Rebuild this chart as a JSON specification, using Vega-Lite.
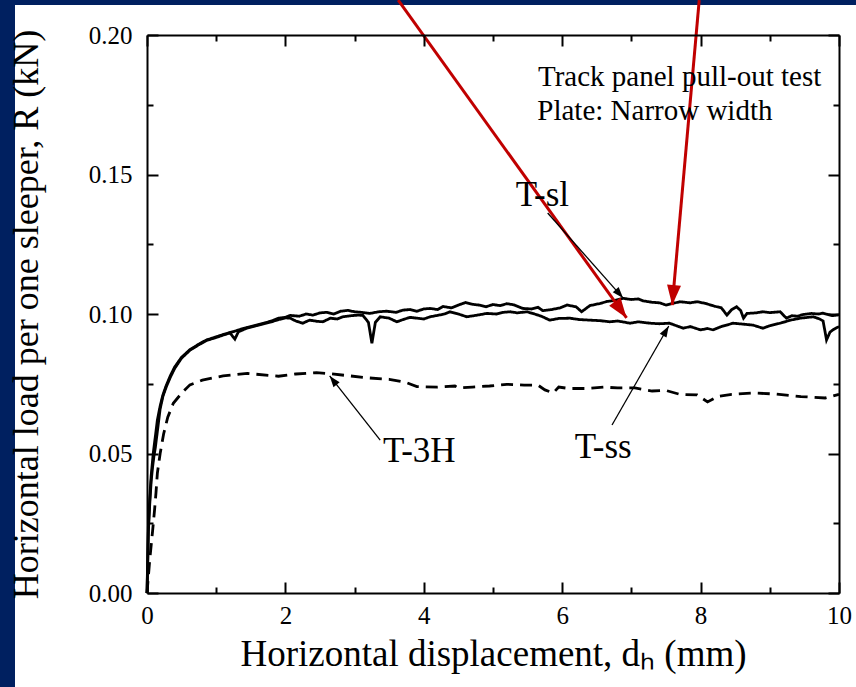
{
  "$schema": "https://vega.github.io/schema/vega-lite/v6.json",
  "width": 692,
  "height": 558,
  "autosize": "none",
  "padding": {"left": 147, "top": 35, "right": 17, "bottom": 94},
  "background": "#002060",
  "config": {"view": {"stroke": null}, "font": "Liberation Serif", "axis": {"grid": false}},
  "datasets": {
    "paper": [{"x0": -1.9075, "x1": 10.5, "y0": 0.21075, "y1": -0.05}],
    "curves": [
      {"s": "T-sl", "x": 0, "y": 0}, {"s": "T-sl", "x": 0.01, "y": 0.012}, {"s": "T-sl", "x": 0.02, "y": 0.024}, {"s": "T-sl", "x": 0.04, "y": 0.034}, {"s": "T-sl", "x": 0.06, "y": 0.042}, {"s": "T-sl", "x": 0.09, "y": 0.05}, {"s": "T-sl", "x": 0.12, "y": 0.056}, {"s": "T-sl", "x": 0.15, "y": 0.062}, {"s": "T-sl", "x": 0.19, "y": 0.067}, {"s": "T-sl", "x": 0.23, "y": 0.071}, {"s": "T-sl", "x": 0.28, "y": 0.0745}, {"s": "T-sl", "x": 0.34, "y": 0.078}, {"s": "T-sl", "x": 0.4, "y": 0.081}, {"s": "T-sl", "x": 0.5, "y": 0.0845}, {"s": "T-sl", "x": 0.62, "y": 0.0872}, {"s": "T-sl", "x": 0.75, "y": 0.0892}, {"s": "T-sl", "x": 0.86, "y": 0.0907}, {"s": "T-sl", "x": 1.0, "y": 0.0918}, {"s": "T-sl", "x": 1.12, "y": 0.0928}, {"s": "T-sl", "x": 1.25, "y": 0.0937}, {"s": "T-sl", "x": 1.35, "y": 0.0945}, {"s": "T-sl", "x": 1.45, "y": 0.0952}, {"s": "T-sl", "x": 1.58, "y": 0.096}, {"s": "T-sl", "x": 1.7, "y": 0.0968}, {"s": "T-sl", "x": 1.8, "y": 0.0975}, {"s": "T-sl", "x": 1.9, "y": 0.0985}, {"s": "T-sl", "x": 2.0, "y": 0.0988}, {"s": "T-sl", "x": 2.07, "y": 0.0995}, {"s": "T-sl", "x": 2.2, "y": 0.0992}, {"s": "T-sl", "x": 2.3, "y": 0.1}, {"s": "T-sl", "x": 2.4, "y": 0.0996}, {"s": "T-sl", "x": 2.5, "y": 0.1004}, {"s": "T-sl", "x": 2.6, "y": 0.1006}, {"s": "T-sl", "x": 2.7, "y": 0.1}, {"s": "T-sl", "x": 2.8, "y": 0.101}, {"s": "T-sl", "x": 2.9, "y": 0.1013}, {"s": "T-sl", "x": 3.0, "y": 0.1008}, {"s": "T-sl", "x": 3.1, "y": 0.1006}, {"s": "T-sl", "x": 3.22, "y": 0.1002}, {"s": "T-sl", "x": 3.35, "y": 0.1008}, {"s": "T-sl", "x": 3.46, "y": 0.101}, {"s": "T-sl", "x": 3.6, "y": 0.1006}, {"s": "T-sl", "x": 3.7, "y": 0.1014}, {"s": "T-sl", "x": 3.8, "y": 0.1016}, {"s": "T-sl", "x": 3.9, "y": 0.101}, {"s": "T-sl", "x": 4.0, "y": 0.1018}, {"s": "T-sl", "x": 4.09, "y": 0.102}, {"s": "T-sl", "x": 4.2, "y": 0.1016}, {"s": "T-sl", "x": 4.28, "y": 0.1027}, {"s": "T-sl", "x": 4.4, "y": 0.1022}, {"s": "T-sl", "x": 4.5, "y": 0.1032}, {"s": "T-sl", "x": 4.6, "y": 0.1041}, {"s": "T-sl", "x": 4.7, "y": 0.1035}, {"s": "T-sl", "x": 4.8, "y": 0.1032}, {"s": "T-sl", "x": 4.9, "y": 0.1026}, {"s": "T-sl", "x": 5.0, "y": 0.1034}, {"s": "T-sl", "x": 5.1, "y": 0.103}, {"s": "T-sl", "x": 5.2, "y": 0.1037}, {"s": "T-sl", "x": 5.3, "y": 0.1033}, {"s": "T-sl", "x": 5.43, "y": 0.102}, {"s": "T-sl", "x": 5.55, "y": 0.1018}, {"s": "T-sl", "x": 5.65, "y": 0.1024}, {"s": "T-sl", "x": 5.72, "y": 0.1012}, {"s": "T-sl", "x": 5.85, "y": 0.1016}, {"s": "T-sl", "x": 5.97, "y": 0.1022}, {"s": "T-sl", "x": 6.07, "y": 0.1032}, {"s": "T-sl", "x": 6.2, "y": 0.1026}, {"s": "T-sl", "x": 6.28, "y": 0.1008}, {"s": "T-sl", "x": 6.4, "y": 0.103}, {"s": "T-sl", "x": 6.55, "y": 0.1038}, {"s": "T-sl", "x": 6.65, "y": 0.1045}, {"s": "T-sl", "x": 6.75, "y": 0.1048}, {"s": "T-sl", "x": 6.88, "y": 0.1056}, {"s": "T-sl", "x": 7.0, "y": 0.1052}, {"s": "T-sl", "x": 7.1, "y": 0.1054}, {"s": "T-sl", "x": 7.17, "y": 0.1047}, {"s": "T-sl", "x": 7.3, "y": 0.1042}, {"s": "T-sl", "x": 7.41, "y": 0.104}, {"s": "T-sl", "x": 7.5, "y": 0.1032}, {"s": "T-sl", "x": 7.6, "y": 0.1038}, {"s": "T-sl", "x": 7.7, "y": 0.1044}, {"s": "T-sl", "x": 7.85, "y": 0.104}, {"s": "T-sl", "x": 7.95, "y": 0.1044}, {"s": "T-sl", "x": 8.07, "y": 0.1038}, {"s": "T-sl", "x": 8.2, "y": 0.1028}, {"s": "T-sl", "x": 8.3, "y": 0.1022}, {"s": "T-sl", "x": 8.38, "y": 0.0996}, {"s": "T-sl", "x": 8.45, "y": 0.1016}, {"s": "T-sl", "x": 8.52, "y": 0.1026}, {"s": "T-sl", "x": 8.58, "y": 0.1012}, {"s": "T-sl", "x": 8.62, "y": 0.0985}, {"s": "T-sl", "x": 8.67, "y": 0.1002}, {"s": "T-sl", "x": 8.8, "y": 0.1004}, {"s": "T-sl", "x": 8.9, "y": 0.1008}, {"s": "T-sl", "x": 9.0, "y": 0.1005}, {"s": "T-sl", "x": 9.15, "y": 0.1008}, {"s": "T-sl", "x": 9.24, "y": 0.0985}, {"s": "T-sl", "x": 9.32, "y": 0.0994}, {"s": "T-sl", "x": 9.4, "y": 0.0992}, {"s": "T-sl", "x": 9.48, "y": 0.0998}, {"s": "T-sl", "x": 9.6, "y": 0.1002}, {"s": "T-sl", "x": 9.7, "y": 0.1}, {"s": "T-sl", "x": 9.77, "y": 0.1003}, {"s": "T-sl", "x": 9.9, "y": 0.0994}, {"s": "T-sl", "x": 10, "y": 0.0997},
      {"s": "T-ss", "x": 0, "y": 0}, {"s": "T-ss", "x": 0.01, "y": 0.01}, {"s": "T-ss", "x": 0.02, "y": 0.022}, {"s": "T-ss", "x": 0.04, "y": 0.032}, {"s": "T-ss", "x": 0.06, "y": 0.04}, {"s": "T-ss", "x": 0.08, "y": 0.045}, {"s": "T-ss", "x": 0.1, "y": 0.049}, {"s": "T-ss", "x": 0.12, "y": 0.052}, {"s": "T-ss", "x": 0.15, "y": 0.058}, {"s": "T-ss", "x": 0.19, "y": 0.066}, {"s": "T-ss", "x": 0.23, "y": 0.0705}, {"s": "T-ss", "x": 0.28, "y": 0.074}, {"s": "T-ss", "x": 0.34, "y": 0.0775}, {"s": "T-ss", "x": 0.4, "y": 0.0805}, {"s": "T-ss", "x": 0.5, "y": 0.0842}, {"s": "T-ss", "x": 0.62, "y": 0.087}, {"s": "T-ss", "x": 0.75, "y": 0.089}, {"s": "T-ss", "x": 0.86, "y": 0.0905}, {"s": "T-ss", "x": 1.0, "y": 0.0916}, {"s": "T-ss", "x": 1.12, "y": 0.0926}, {"s": "T-ss", "x": 1.2, "y": 0.0932}, {"s": "T-ss", "x": 1.27, "y": 0.091}, {"s": "T-ss", "x": 1.32, "y": 0.0936}, {"s": "T-ss", "x": 1.45, "y": 0.095}, {"s": "T-ss", "x": 1.58, "y": 0.0958}, {"s": "T-ss", "x": 1.7, "y": 0.0966}, {"s": "T-ss", "x": 1.8, "y": 0.0972}, {"s": "T-ss", "x": 1.9, "y": 0.098}, {"s": "T-ss", "x": 2.0, "y": 0.0986}, {"s": "T-ss", "x": 2.07, "y": 0.0985}, {"s": "T-ss", "x": 2.15, "y": 0.0975}, {"s": "T-ss", "x": 2.25, "y": 0.0967}, {"s": "T-ss", "x": 2.35, "y": 0.0978}, {"s": "T-ss", "x": 2.45, "y": 0.0974}, {"s": "T-ss", "x": 2.54, "y": 0.0972}, {"s": "T-ss", "x": 2.65, "y": 0.0985}, {"s": "T-ss", "x": 2.75, "y": 0.0982}, {"s": "T-ss", "x": 2.83, "y": 0.099}, {"s": "T-ss", "x": 2.95, "y": 0.0994}, {"s": "T-ss", "x": 3.05, "y": 0.0996}, {"s": "T-ss", "x": 3.12, "y": 0.0995}, {"s": "T-ss", "x": 3.2, "y": 0.097}, {"s": "T-ss", "x": 3.25, "y": 0.0895}, {"s": "T-ss", "x": 3.3, "y": 0.097}, {"s": "T-ss", "x": 3.37, "y": 0.099}, {"s": "T-ss", "x": 3.5, "y": 0.0985}, {"s": "T-ss", "x": 3.61, "y": 0.0972}, {"s": "T-ss", "x": 3.7, "y": 0.098}, {"s": "T-ss", "x": 3.8, "y": 0.0988}, {"s": "T-ss", "x": 3.9, "y": 0.0985}, {"s": "T-ss", "x": 4.0, "y": 0.0982}, {"s": "T-ss", "x": 4.09, "y": 0.099}, {"s": "T-ss", "x": 4.2, "y": 0.0995}, {"s": "T-ss", "x": 4.3, "y": 0.1}, {"s": "T-ss", "x": 4.38, "y": 0.1008}, {"s": "T-ss", "x": 4.5, "y": 0.1}, {"s": "T-ss", "x": 4.62, "y": 0.099}, {"s": "T-ss", "x": 4.75, "y": 0.0995}, {"s": "T-ss", "x": 4.91, "y": 0.1002}, {"s": "T-ss", "x": 5.05, "y": 0.1}, {"s": "T-ss", "x": 5.15, "y": 0.1006}, {"s": "T-ss", "x": 5.25, "y": 0.1008}, {"s": "T-ss", "x": 5.35, "y": 0.1004}, {"s": "T-ss", "x": 5.49, "y": 0.1008}, {"s": "T-ss", "x": 5.6, "y": 0.1}, {"s": "T-ss", "x": 5.7, "y": 0.0992}, {"s": "T-ss", "x": 5.82, "y": 0.0978}, {"s": "T-ss", "x": 5.95, "y": 0.0984}, {"s": "T-ss", "x": 6.11, "y": 0.0985}, {"s": "T-ss", "x": 6.25, "y": 0.098}, {"s": "T-ss", "x": 6.4, "y": 0.0978}, {"s": "T-ss", "x": 6.55, "y": 0.0976}, {"s": "T-ss", "x": 6.69, "y": 0.0972}, {"s": "T-ss", "x": 6.8, "y": 0.0975}, {"s": "T-ss", "x": 6.98, "y": 0.0967}, {"s": "T-ss", "x": 7.1, "y": 0.0972}, {"s": "T-ss", "x": 7.27, "y": 0.0967}, {"s": "T-ss", "x": 7.4, "y": 0.0965}, {"s": "T-ss", "x": 7.55, "y": 0.0967}, {"s": "T-ss", "x": 7.65, "y": 0.0958}, {"s": "T-ss", "x": 7.75, "y": 0.0949}, {"s": "T-ss", "x": 7.85, "y": 0.0955}, {"s": "T-ss", "x": 8.0, "y": 0.0943}, {"s": "T-ss", "x": 8.1, "y": 0.0948}, {"s": "T-ss", "x": 8.18, "y": 0.0943}, {"s": "T-ss", "x": 8.3, "y": 0.0955}, {"s": "T-ss", "x": 8.47, "y": 0.0967}, {"s": "T-ss", "x": 8.6, "y": 0.0964}, {"s": "T-ss", "x": 8.76, "y": 0.096}, {"s": "T-ss", "x": 8.9, "y": 0.0949}, {"s": "T-ss", "x": 9.0, "y": 0.0958}, {"s": "T-ss", "x": 9.15, "y": 0.0967}, {"s": "T-ss", "x": 9.3, "y": 0.0978}, {"s": "T-ss", "x": 9.44, "y": 0.0985}, {"s": "T-ss", "x": 9.55, "y": 0.0988}, {"s": "T-ss", "x": 9.63, "y": 0.099}, {"s": "T-ss", "x": 9.72, "y": 0.0982}, {"s": "T-ss", "x": 9.77, "y": 0.0975}, {"s": "T-ss", "x": 9.82, "y": 0.0907}, {"s": "T-ss", "x": 9.87, "y": 0.0935}, {"s": "T-ss", "x": 9.91, "y": 0.0943}, {"s": "T-ss", "x": 10, "y": 0.0955},
      {"s": "T-3H", "x": 0, "y": 0}, {"s": "T-3H", "x": 0.04, "y": 0.012}, {"s": "T-3H", "x": 0.08, "y": 0.022}, {"s": "T-3H", "x": 0.11, "y": 0.03}, {"s": "T-3H", "x": 0.13, "y": 0.036}, {"s": "T-3H", "x": 0.15, "y": 0.043}, {"s": "T-3H", "x": 0.19, "y": 0.05}, {"s": "T-3H", "x": 0.24, "y": 0.057}, {"s": "T-3H", "x": 0.3, "y": 0.063}, {"s": "T-3H", "x": 0.38, "y": 0.068}, {"s": "T-3H", "x": 0.5, "y": 0.0716}, {"s": "T-3H", "x": 0.62, "y": 0.0746}, {"s": "T-3H", "x": 0.8, "y": 0.0763}, {"s": "T-3H", "x": 1.1, "y": 0.0778}, {"s": "T-3H", "x": 1.45, "y": 0.0787}, {"s": "T-3H", "x": 1.9, "y": 0.0777}, {"s": "T-3H", "x": 2.15, "y": 0.0785}, {"s": "T-3H", "x": 2.45, "y": 0.079}, {"s": "T-3H", "x": 2.65, "y": 0.0786}, {"s": "T-3H", "x": 2.9, "y": 0.0779}, {"s": "T-3H", "x": 3.2, "y": 0.0771}, {"s": "T-3H", "x": 3.5, "y": 0.0766}, {"s": "T-3H", "x": 3.75, "y": 0.0754}, {"s": "T-3H", "x": 3.9, "y": 0.074}, {"s": "T-3H", "x": 4.2, "y": 0.0738}, {"s": "T-3H", "x": 4.45, "y": 0.0742}, {"s": "T-3H", "x": 4.5, "y": 0.0735}, {"s": "T-3H", "x": 4.7, "y": 0.0738}, {"s": "T-3H", "x": 4.95, "y": 0.0742}, {"s": "T-3H", "x": 5.2, "y": 0.0748}, {"s": "T-3H", "x": 5.45, "y": 0.0745}, {"s": "T-3H", "x": 5.65, "y": 0.0745}, {"s": "T-3H", "x": 5.75, "y": 0.0728}, {"s": "T-3H", "x": 5.87, "y": 0.0717}, {"s": "T-3H", "x": 5.95, "y": 0.0738}, {"s": "T-3H", "x": 6.1, "y": 0.0733}, {"s": "T-3H", "x": 6.35, "y": 0.0733}, {"s": "T-3H", "x": 6.6, "y": 0.0738}, {"s": "T-3H", "x": 6.8, "y": 0.0735}, {"s": "T-3H", "x": 7.05, "y": 0.0735}, {"s": "T-3H", "x": 7.3, "y": 0.0724}, {"s": "T-3H", "x": 7.5, "y": 0.0726}, {"s": "T-3H", "x": 7.7, "y": 0.0712}, {"s": "T-3H", "x": 7.95, "y": 0.071}, {"s": "T-3H", "x": 8.1, "y": 0.0685}, {"s": "T-3H", "x": 8.25, "y": 0.0705}, {"s": "T-3H", "x": 8.45, "y": 0.0712}, {"s": "T-3H", "x": 8.75, "y": 0.0717}, {"s": "T-3H", "x": 9.1, "y": 0.0713}, {"s": "T-3H", "x": 9.45, "y": 0.0704}, {"s": "T-3H", "x": 9.8, "y": 0.0699}, {"s": "T-3H", "x": 10, "y": 0.0712}
    ],
    "arrows": [
      {"kind": "red", "xf": 3.63, "yf": 0.2125, "xt": 6.93, "yt": 0.0986, "angle": 144.2},
      {"kind": "red", "xf": 7.98, "yf": 0.2125, "xt": 7.59, "yt": 0.1032, "angle": 185.1},
      {"kind": "black", "xf": 5.79, "yf": 0.1362, "xt": 6.88, "yt": 0.1057, "angle": 138.6},
      {"kind": "black", "xf": 3.37, "yf": 0.0548, "xt": 2.64, "yt": 0.0778, "angle": 322},
      {"kind": "black", "xf": 6.72, "yf": 0.0602, "xt": 7.54, "yt": 0.0957, "angle": 30.4}
    ],
    "notes": [
      {"text": "Track panel pull-out test", "x": 5.65, "y": 0.1817},
      {"text": "Plate: Narrow width", "x": 5.64, "y": 0.1695}
    ],
    "tags": [
      {"text": "T-sl", "x": 5.33, "y": 0.1387},
      {"text": "T-3H", "x": 3.41, "y": 0.0471},
      {"text": "T-ss", "x": 6.18, "y": 0.0483}
    ]
  },
  "layer": [
    {
      "data": {"name": "paper"},
      "mark": {"type": "rect", "color": "white"},
      "encoding": {
        "x": {"field": "x0", "type": "quantitative", "scale": {"domain": [0, 10], "nice": false, "zero": false},
          "axis": {"orient": "bottom", "values": [0, 2, 4, 6, 8, 10], "ticks": false,
            "labelFont": "Liberation Serif", "labelFontSize": 25, "labelColor": "black", "labelPadding": 10,
            "labelFlush": false, "labelOverlap": false,
            "domainColor": "black", "domainWidth": 2,
            "title": "Horizontal displacement, dₕ (mm)", "titleFont": "Liberation Serif", "titleFontSize": 37,
            "titleFontWeight": "normal", "titleColor": "black", "titlePadding": 8, "zindex": 1}},
        "x2": {"field": "x1"},
        "y": {"field": "y0", "type": "quantitative", "scale": {"domain": [0, 0.2], "nice": false, "zero": false},
          "axis": {"orient": "left", "values": [0, 0.05, 0.1, 0.15, 0.2], "format": ".2f", "ticks": false,
            "labelFont": "Liberation Serif", "labelFontSize": 25, "labelColor": "black", "labelPadding": 15,
            "labelFlush": false, "labelOverlap": false,
            "domainColor": "black", "domainWidth": 2,
            "title": "Horizontal load per one sleeper, R (kN)", "titleFont": "Liberation Serif", "titleFontSize": 36,
            "titleFontWeight": "normal", "titleColor": "black", "titlePadding": 43, "zindex": 1}},
        "y2": {"field": "y1"}
      }
    },
    {
      "data": {"name": "curves"},
      "mark": {"type": "line", "color": "black", "strokeWidth": 2.8},
      "encoding": {
        "x": {"field": "x", "type": "quantitative",
          "axis": {"orient": "top", "values": [0, 2, 4, 6, 8, 10], "ticks": false, "labels": false, "title": null,
            "domainColor": "black", "domainWidth": 2, "zindex": 1}},
        "y": {"field": "y", "type": "quantitative",
          "axis": {"orient": "right", "values": [0, 0.05, 0.1, 0.15, 0.2], "ticks": false, "labels": false, "title": null,
            "domainColor": "black", "domainWidth": 2, "zindex": 1}},
        "strokeDash": {"field": "s", "type": "nominal",
          "scale": {"domain": ["T-sl", "T-ss", "T-3H"], "range": [[1, 0], [1, 0], [12, 7]]}, "legend": null}
      }
    },
    {
      "data": {"name": "arrows"},
      "mark": {"type": "rule"},
      "encoding": {
        "x": {"field": "xf", "type": "quantitative",
          "axis": {"orient": "bottom", "values": [0, 2, 4, 6, 8, 10], "offset": -11, "tickSize": 11, "labels": false, "title": null,
            "domain": false, "tickColor": "black", "tickWidth": 2, "zindex": 1}},
        "y": {"field": "yf", "type": "quantitative",
          "axis": {"orient": "left", "values": [0, 0.05, 0.1, 0.15, 0.2], "offset": -11, "tickSize": 11, "labels": false, "title": null,
            "domain": false, "tickColor": "black", "tickWidth": 2, "zindex": 1}},
        "x2": {"field": "xt"},
        "y2": {"field": "yt"},
        "color": {"field": "kind", "type": "nominal", "scale": {"domain": ["red", "black"], "range": ["#c00000", "#000000"]}, "legend": null},
        "strokeWidth": {"field": "kind", "type": "ordinal", "scale": {"domain": ["red", "black"], "range": [3, 1.3]}, "legend": null}
      }
    },
    {
      "data": {"name": "arrows"},
      "mark": {"type": "point", "shape": "M0,0L-0.35,1L0.35,1Z", "filled": true, "opacity": 1},
      "encoding": {
        "x": {"field": "xt", "type": "quantitative",
          "axis": {"orient": "top", "values": [0, 2, 4, 6, 8, 10], "offset": -11, "tickSize": 11, "labels": false, "title": null,
            "domain": false, "tickColor": "black", "tickWidth": 2, "zindex": 1}},
        "y": {"field": "yt", "type": "quantitative",
          "axis": {"orient": "right", "values": [0, 0.05, 0.1, 0.15, 0.2], "offset": -11, "tickSize": 11, "labels": false, "title": null,
            "domain": false, "tickColor": "black", "tickWidth": 2, "zindex": 1}},
        "angle": {"field": "angle", "type": "quantitative", "scale": null},
        "color": {"field": "kind", "type": "nominal", "scale": {"domain": ["red", "black"], "range": ["#c00000", "#000000"]}, "legend": null},
        "size": {"field": "kind", "type": "ordinal", "scale": {"domain": ["red", "black"], "range": [1600, 500]}, "legend": null}
      }
    },
    {
      "data": {"name": "notes"},
      "mark": {"type": "text", "align": "left", "baseline": "alphabetic", "font": "Liberation Serif", "fontSize": 29, "color": "black"},
      "encoding": {
        "x": {"field": "x", "type": "quantitative",
          "axis": {"orient": "bottom", "values": [1, 3, 5, 7, 9], "offset": -6, "tickSize": 6, "labels": false, "title": null,
            "domain": false, "tickColor": "black", "tickWidth": 2, "zindex": 1}},
        "y": {"field": "y", "type": "quantitative",
          "axis": {"orient": "left", "values": [0.025, 0.075, 0.125, 0.175], "offset": -6, "tickSize": 6, "labels": false, "title": null,
            "domain": false, "tickColor": "black", "tickWidth": 2, "zindex": 1}},
        "text": {"field": "text"}
      }
    },
    {
      "data": {"name": "tags"},
      "mark": {"type": "text", "align": "left", "baseline": "alphabetic", "font": "Liberation Serif", "fontSize": 35, "color": "black"},
      "encoding": {
        "x": {"field": "x", "type": "quantitative",
          "axis": {"orient": "top", "values": [1, 3, 5, 7, 9], "offset": -6, "tickSize": 6, "labels": false, "title": null,
            "domain": false, "tickColor": "black", "tickWidth": 2, "zindex": 1}},
        "y": {"field": "y", "type": "quantitative",
          "axis": {"orient": "right", "values": [0.025, 0.075, 0.125, 0.175], "offset": -6, "tickSize": 6, "labels": false, "title": null,
            "domain": false, "tickColor": "black", "tickWidth": 2, "zindex": 1}},
        "text": {"field": "text"}
      }
    }
  ],
  "resolve": {"axis": {"x": "independent", "y": "independent"}}
}
